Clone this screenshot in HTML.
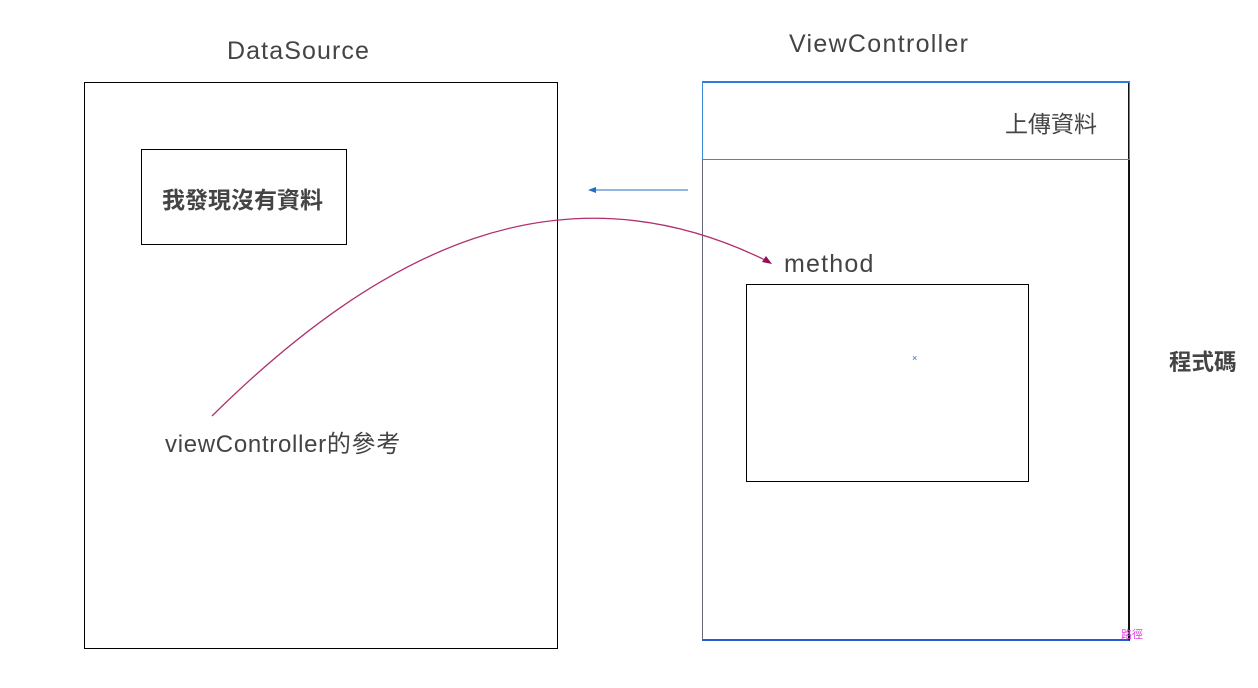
<!DOCTYPE html>
<html><head><meta charset="utf-8"><style>
body{margin:0;width:1258px;height:688px;background:#fff;position:relative;overflow:hidden;font-family:"Liberation Sans","Noto Sans CJK TC",sans-serif;color:#444}
.t{position:absolute;white-space:nowrap}
.b{position:absolute;box-sizing:border-box}
</style></head><body>
<div class="t" style="left:227px;top:37px;font-size:25px;letter-spacing:1.1px">DataSource</div>
<div class="t" style="left:789px;top:30px;font-size:25px;letter-spacing:1.3px">ViewController</div>
<div class="b" style="left:84px;top:82px;width:474px;height:567px;border:1px solid #000"></div>
<div class="b" style="left:141px;top:149px;width:206px;height:96px;border:1px solid #000"></div>
<div class="t" style="left:162px;top:181px;font-size:23px;font-weight:bold">我發現沒有資料</div>
<div class="b" style="left:702px;top:81px;width:428px;height:560px;border:1px solid #000;border-left-color:#667;border-bottom:2px solid #2a5ad0;border-right:2px solid #111"></div>
<div class="b" style="left:702px;top:81px;width:428px;height:79px;border:1px solid #3a8ad8;border-top:2px solid #2f7ce0"></div>
<div class="t" style="left:1005px;top:105px;font-size:23px">上傳資料</div>
<div class="t" style="left:784px;top:250px;font-size:25px;letter-spacing:1.2px">method</div>
<div class="b" style="left:746px;top:284px;width:283px;height:198px;border:1px solid #000"></div>
<div class="t" style="left:912px;top:353px;font-size:9px;color:#36c">×</div>
<div class="t" style="left:165px;top:424px;font-size:24px;letter-spacing:0.7px">viewController的參考</div>
<div class="t" style="left:1169px;top:345px;font-size:22.5px;font-weight:bold">程式碼</div>
<div class="t" style="left:1121px;top:626px;font-size:11px;color:#e040e0">路徑</div>
<svg width="1258" height="688" style="position:absolute;left:0;top:0">
<line x1="688" y1="190" x2="594" y2="190" stroke="#1f6fc0" stroke-width="1"/>
<polygon points="588,190 596,187 596,193" fill="#1f6fc0"/>
<path d="M212,416 C380,250 560,160 765,260" fill="none" stroke="#b0306e" stroke-width="1.3"/>
<polygon points="772,264 762,262 766,256" fill="#90105a"/>
</svg>
</body></html>
